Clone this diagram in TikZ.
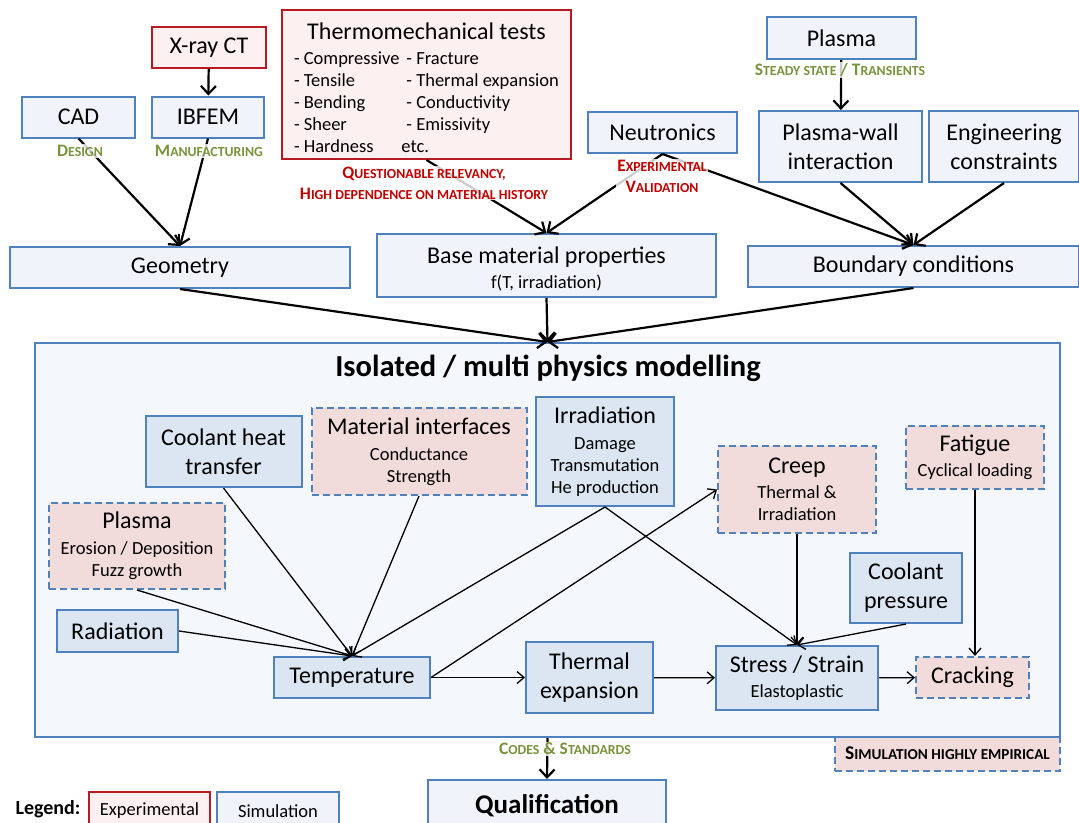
\documentclass[tikz,border=0pt]{standalone}
\usepackage{fontspec}
\setmainfont{Carlito}
\usepackage{xcolor}
\usepackage{tikz}
\usetikzlibrary{arrows.meta, calc}

\definecolor{simblue}{RGB}{79,129,189}
\definecolor{topfill}{RGB}{240,244,250}
\definecolor{simfill}{RGB}{220,230,242}
\definecolor{modelfill}{RGB}{244,247,251}
\definecolor{pinkfill}{RGB}{242,220,219}
\definecolor{expred}{RGB}{185,25,35}
\definecolor{expfill}{RGB}{253,240,240}
\definecolor{lblgreen}{RGB}{119,147,60}
\definecolor{lblred}{RGB}{192,0,0}

\newcommand\bigtxt{\fontsize{24}{29}\selectfont}
\newcommand\subtxt{\fontsize{18.5}{22}\selectfont}
\newcommand\lbltxt{\fontsize{17.5}{21}\selectfont\bfseries}
\newcommand\fsc[2]{#1{\fontsize{13.8}{15}\selectfont #2}}
\newcommand\fscl[2]{#1{\fontsize{15.2}{17}\selectfont #2}}

\begin{document}
\begin{tikzpicture}[
    x=1pt, y=-1pt,
    box/.style={draw=simblue, line width=2pt, rectangle, fill=topfill,
      align=center, inner sep=0pt, font=\bigtxt},
    simbox/.style={box, fill=simfill},
    expbox/.style={box, draw=expred, fill=expfill},
    dashbox/.style={box, fill=pinkfill, dash pattern=on 7pt off 4pt},
    lbl/.style={fill=white, fill opacity=0.8, text opacity=1, inner sep=1pt,
      align=center, font=\lbltxt},
    arrow/.style={line width=2.2pt, -{Straight Barb[length=8pt,width=15pt]}},
    thinarrow/.style={line width=1.3pt, -{Straight Barb[length=7pt,width=12pt]}}
]
\useasboundingbox (0,0) rectangle (1079,822);

\node (xray) [expbox, minimum width=114, minimum height=41] at (209,47.5) {X-ray CT};
\node (cad) [box, minimum width=113, minimum height=41] at (78.5,117) {CAD};
\node (ibfem) [box, minimum width=112, minimum height=41] at (208,117) {IBFEM};
\node (thermo) [expbox, minimum width=289, minimum height=149] at (426.5,84.5)
  {\rule{0pt}{29pt}Thermomechanical tests\\[-4pt]
   {\subtxt\begin{tabular}[t]{@{}l@{\hspace{7pt}}l@{}}
    - Compressive & - Fracture\\
    - Tensile & - Thermal expansion\\
    - Bending & - Conductivity\\
    - Sheer & - Emissivity\\
    - Hardness & \hspace{-5pt}etc.
   \end{tabular}}};
\node (plasma) [box, minimum width=149, minimum height=42] at (841.5,38) {Plasma};
\node (neutr) [box, minimum width=149, minimum height=41] at (662.5,132.5) {Neutronics};
\node (pwi) [box, minimum width=163, minimum height=71] at (840.5,146.5) {Plasma-wall\\interaction};
\node (eng) [box, minimum width=150, minimum height=71] at (1004,146.5) {Engineering\\constraints};

\node (geom) [box, minimum width=340, minimum height=41] at (180,267.5) {Geometry};
\node (base) [box, minimum width=339, minimum height=63, font=\subtxt] at (546.5,265.5)
  {\rule{0pt}{24pt}{\bigtxt Base material properties}\\[3pt]f(T, irradiation)};
\node (bound) [box, minimum width=331, minimum height=41] at (913.5,266.5) {Boundary conditions};

\node (emp) [dashbox, minimum width=225, minimum height=35,
  font=\fontsize{19.5}{22}\selectfont\bfseries] at (947.5,753)
  {\fscl{S}{IMULATION HIGHLY EMPIRICAL}};
\node (model) [box, fill=modelfill, minimum width=1025, minimum height=394] at (547.5,540) {};
\node (title) [font=\fontsize{30.5}{35}\selectfont\bfseries] at (548,368) {Isolated / multi physics modelling};

\node (cht) [simbox, minimum width=156, minimum height=71] at (223.5,451.5) {Coolant heat\\transfer};
\node (mint) [dashbox, minimum width=215, minimum height=87, font=\subtxt] at (419,451.5)
  {{\bigtxt Material interfaces}\\[4pt]Conductance\\Strength};
\node (irr) [simbox, minimum width=138, minimum height=109, font=\subtxt] at (605,451.5)
  {{\bigtxt Irradiation}\\[4pt]Damage\\Transmutation\\He production};
\node (creep) [dashbox, minimum width=158, minimum height=87, font=\subtxt] at (797,489.5)
  {{\bigtxt Creep}\\[3pt]Thermal \&\\Irradiation};
\node (fat) [dashbox, minimum width=138, minimum height=63, font=\subtxt] at (975,457.5)
  {{\bigtxt Fatigue}\\[3pt]Cyclical loading};
\node (pls) [dashbox, minimum width=176, minimum height=86, font=\subtxt] at (137,546)
  {{\bigtxt Plasma}\\[4pt]Erosion / Deposition\\Fuzz growth};
\node (rad) [simbox, minimum width=121, minimum height=42] at (117.5,631) {Radiation};
\node (temp) [simbox, minimum width=156, minimum height=41] at (352,677.5) {Temperature};
\node (texp) [simbox, minimum width=127, minimum height=71] at (589.5,677.5) {Thermal\\expansion};
\node (cpres) [simbox, minimum width=112, minimum height=70] at (906,588) {Coolant\\pressure};
\node (stress) [simbox, minimum width=162, minimum height=64, font=\subtxt] at (797,678)
  {{\bigtxt Stress / Strain}\\[3pt]Elastoplastic};
\node (crack) [dashbox, minimum width=113, minimum height=41] at (972.5,677.5) {Cracking};

\node (qual) [box, minimum width=238, minimum height=52, font=\fontsize{27}{32}\selectfont\bfseries]
  at (547,806) {Qualification};
\node (legend) [font=\fontsize{20}{22}\selectfont\bfseries] at (48,809) {Legend:};
\node (legexp) [expbox, minimum width=121, minimum height=38, font=\subtxt] at (149.5,811) {Experimental};
\node (legsim) [box, minimum width=122, minimum height=38, font=\subtxt] at (278,811) {Simulation};

\draw[arrow] (xray) -- (ibfem);
\draw[arrow] (cad.south) -- (geom.north);
\draw[arrow] (ibfem.south) -- (geom.north);
\draw[arrow] (thermo.south) -- (base.north);
\draw[arrow] (neutr.south) -- (base.north);
\draw[arrow] (neutr.south) -- (bound.north);
\draw[arrow] (plasma) -- (pwi);
\draw[arrow] (pwi.south) -- (bound.north);
\draw[arrow] (eng.south) -- (bound.north);
\draw[arrow] (geom.south) -- (model.north);
\draw[arrow] (base.south) -- (model.north);
\draw[arrow] (bound.south) -- (model.north);
\draw[arrow] (model.south) -- (qual.north);

\draw[thinarrow] (cht.south) -- (temp.north);
\draw[thinarrow] (mint.south) -- (temp.north);
\draw[thinarrow] (pls.south) -- (temp.north);
\draw[thinarrow] (rad.east) -- (temp.north);
\draw[thinarrow] (irr.south) -- (temp.north);
\draw[thinarrow] (irr.south) -- (stress.north);
\draw[thinarrow] (temp.east) -- (creep.west);
\draw[thinarrow] (temp) -- (texp);
\draw[thinarrow] (texp) -- (stress);
\draw[thinarrow] (creep) -- (stress);
\draw[thinarrow] (cpres.south) -- (stress.north);
\draw[thinarrow] (stress) -- (crack);
\draw[thinarrow] (fat.south) -- (fat.south |- crack.north);

\node (design) [lbl, text=lblgreen] at (80,151) {\fsc{D}{ESIGN}};
\node (manuf) [lbl, text=lblgreen] at (209,151) {\fsc{M}{ANUFACTURING}};
\node (relev) [lbl, text=lblred] at (424,183)
  {\fsc{Q}{UESTIONABLE RELEVANCY,}\\\fsc{H}{IGH DEPENDENCE ON MATERIAL HISTORY}};
\node (steady) [lbl, text=lblgreen] at (840,70) {\fsc{S}{TEADY STATE} / \fsc{T}{RANSIENTS}};
\node (expval) [lbl, text=lblred] at (662,176) {\fsc{E}{XPERIMENTAL}\\\fsc{V}{ALIDATION}};
\node (codes) [lbl, text=lblgreen] at (565,749) {\fsc{C}{ODES} \& \fsc{S}{TANDARDS}};
\end{tikzpicture}
\end{document}
